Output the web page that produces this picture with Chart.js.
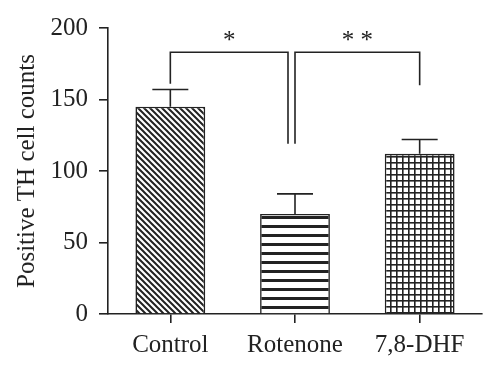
<!DOCTYPE html><html><head><meta charset="utf-8">
<script src="https://cdn.jsdelivr.net/npm/chart.js@4"></script>
<style>html,body{margin:0;padding:0;background:#fff}#c{display:block}</style></head>
<body><canvas id="c" width="500" height="374"></canvas>
<script>
const categories = ['Control', 'Rotenone', '7,8-DHF'];
const means = [145, 70, 112];
const errors = [12, 14, 10];
const yTicks = [0, 50, 100, 150, 200];
// [fromIndex, toIndex, topValue, leftEndValue, rightEndValue, label]
const brackets = [[0, 1, 183, 161, 119, '*'], [1, 2, 183, 119, 160, '* *']];

const INK = '#222';
const FONT = 'Liberation Serif';
function makePattern(kind) {
  const c = document.createElement('canvas');
  const g = c.getContext('2d');
  if (kind === 'diag') {
    const s = 6; c.width = s; c.height = s;
    g.fillStyle = '#fff'; g.fillRect(0, 0, s, s);
    g.strokeStyle = INK; g.lineWidth = 2;
    g.beginPath();
    g.moveTo(-1, -1); g.lineTo(s + 1, s + 1);
    g.moveTo(-1, s - 1); g.lineTo(1, s + 1);
    g.moveTo(s - 1, -1); g.lineTo(s + 1, 1);
    g.stroke();
  } else if (kind === 'horiz') {
    c.width = 4; c.height = 9;
    g.fillStyle = '#fff'; g.fillRect(0, 0, 4, 9);
    g.fillStyle = INK; g.fillRect(0, 0, 4, 3);
  } else {
    c.width = 6; c.height = 6;
    g.fillStyle = '#fff'; g.fillRect(0, 0, 6, 6);
    g.fillStyle = INK; g.fillRect(0, 0, 6, 1.6); g.fillRect(0, 0, 1.6, 6);
  }
  return g.createPattern(c, 'repeat');
}
const fills = [makePattern('diag'), makePattern('horiz'), makePattern('grid')];

const annot = {
  id: 'annot',
  afterDatasetsDraw(chart) {
    const ctx = chart.ctx, x = chart.scales.x, y = chart.scales.y;
    ctx.save();
    ctx.strokeStyle = INK; ctx.lineWidth = 1.6;
    means.forEach((m, i) => {
      const cx = x.getPixelForValue(i);
      const y0 = y.getPixelForValue(m), y1 = y.getPixelForValue(m + errors[i]);
      ctx.beginPath();
      ctx.moveTo(cx, y0); ctx.lineTo(cx, y1);
      ctx.moveTo(cx - 18, y1); ctx.lineTo(cx + 18, y1);
      ctx.stroke();
    });
    ctx.fillStyle = INK;
    ctx.font = '25px "' + FONT + '"';
    ctx.textAlign = 'center'; ctx.textBaseline = 'middle';
    brackets.forEach((b, k) => {
      const xl = x.getPixelForValue(b[0]);
      const xr = x.getPixelForValue(b[1]) - (k === 0 ? 7 : 0);
      const yt = y.getPixelForValue(b[2]);
      ctx.beginPath();
      ctx.moveTo(xl, y.getPixelForValue(b[3]));
      ctx.lineTo(xl, yt); ctx.lineTo(xr, yt);
      ctx.lineTo(xr, y.getPixelForValue(b[4]));
      ctx.stroke();
      ctx.fillText(b[5], (xl + xr) / 2, yt - 11);
    });
    ctx.restore();
  }
};

new Chart(document.getElementById('c'), {
  type: 'bar',
  data: {
    labels: categories,
    datasets: [{
      data: means,
      backgroundColor: fills,
      borderColor: INK,
      borderWidth: 1.6,
      borderSkipped: 'bottom',
      categoryPercentage: 1,
      barPercentage: 0.56
    }]
  },
  options: {
    responsive: false,
    animation: false,
    layout: { padding: { top: 28, right: 18, left: 0, bottom: 0 } },
    plugins: { legend: { display: false }, tooltip: { enabled: false } },
    scales: {
      x: {
        afterFit(s) { s.height = 60; },
        grid: { display: true, drawOnChartArea: false, drawTicks: true, tickLength: 9, offset: false, color: INK, lineWidth: 1.6 },
        border: { display: true, color: INK, width: 1.6 },
        ticks: { color: INK, padding: 7, font: { family: FONT, size: 25 } }
      },
      y: {
        min: 0, max: 200,
        afterFit(s) { s.width = 108; },
        afterBuildTicks(s) { s.ticks = yTicks.map(v => ({ value: v })); },
        grid: { display: true, drawOnChartArea: false, drawTicks: true, tickLength: 9, color: INK, lineWidth: 1.6 },
        border: { display: true, color: INK, width: 1.6 },
        ticks: { color: INK, padding: 11, font: { family: FONT, size: 25 } },
        title: { display: true, text: 'Positive TH cell counts', color: INK, padding: { top: 12, bottom: 0 }, font: { family: FONT, size: 25 } }
      }
    }
  },
  plugins: [annot]
});
</script></body></html>
